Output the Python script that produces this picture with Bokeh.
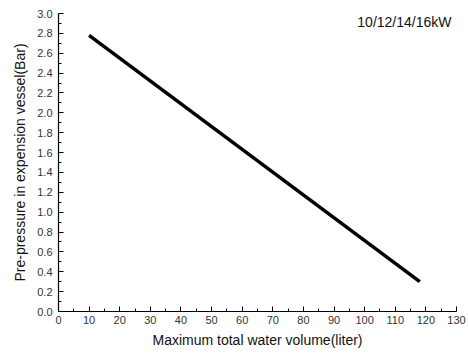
from bokeh.plotting import figure
from bokeh.models import Label, FixedTicker, Range1d, CustomJSTickFormatter
from bokeh.embed import file_html
from bokeh.resources import INLINE

volume = [10, 118]
pressure = [2.78, 0.30]
x_ticks = list(range(0, 131, 10))
y_ticks = [round(0.2 * i, 1) for i in range(16)]
annotation = "10/12/14/16kW"

p = figure(width=468, height=353, output_backend="svg", toolbar_location=None,
           x_range=Range1d(0, 130), y_range=Range1d(0, 3.0),
           min_border_left=58, min_border_right=12, min_border_top=13, min_border_bottom=42)
p.outline_line_color = None
p.grid.visible = False
p.background_fill_color = "white"

p.line(volume, pressure, line_color="black", line_width=3.5)

for ax in (p.xaxis[0], p.yaxis[0]):
    ax.major_tick_in = 5
    ax.major_tick_out = 0
    ax.minor_tick_in = 3
    ax.minor_tick_out = 0
    ax.axis_line_color = "black"
    ax.axis_line_width = 1.2
    ax.major_label_text_font = "Liberation Sans"
    ax.major_label_text_font_size = "11px"
    ax.major_label_text_color = "#333333"
    ax.axis_label_text_font = "Liberation Sans"
    ax.axis_label_text_font_size = "14px"
    ax.axis_label_text_font_style = "normal"
    ax.axis_label_text_color = "#111111"

p.xaxis.ticker = FixedTicker(ticks=x_ticks, minor_ticks=[5 + 10 * i for i in range(13)])
p.yaxis.ticker = FixedTicker(ticks=y_ticks, minor_ticks=[round(0.1 + 0.2 * i, 1) for i in range(15)])
p.yaxis.formatter = CustomJSTickFormatter(code="return tick.toFixed(1);")
p.xaxis.axis_label = "Maximum total water volume(liter)"
p.yaxis.axis_label = "Pre-pressure in expension vessel(Bar)"
p.xaxis.major_label_standoff = 4
p.yaxis.major_label_standoff = 6
p.xaxis.axis_label_standoff = 5
p.yaxis.axis_label_standoff = 6

p.add_layout(Label(x=97.6, y=2.91, text=annotation, text_font="Liberation Sans",
                   text_font_size="14px", text_baseline="middle", text_color="#111111"))

open("out.html", "w").write(file_html(p, INLINE))
